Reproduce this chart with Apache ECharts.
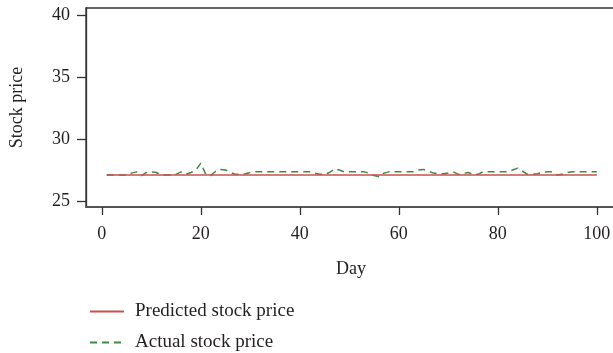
<!DOCTYPE html>
<html>
<head>
<meta charset="utf-8">
<script src="https://cdn.jsdelivr.net/npm/echarts@6/dist/echarts.min.js"></script>
<style>
  html, body { margin: 0; padding: 0; background: #fff; }
  #chart { width: 613px; height: 353px; }
</style>
</head>
<body>
<div id="chart"></div>
<script>
// Trading days 1..100
const days = [];
for (let d = 1; d <= 100; d++) days.push(d);

// Model output (flat forecast)
const predicted = [
  27.15, 27.15, 27.15, 27.15, 27.15, 27.15, 27.15, 27.15, 27.15, 27.15,
  27.15, 27.15, 27.15, 27.15, 27.15, 27.15, 27.15, 27.15, 27.15, 27.15,
  27.15, 27.15, 27.15, 27.15, 27.15, 27.15, 27.15, 27.15, 27.15, 27.15,
  27.15, 27.15, 27.15, 27.15, 27.15, 27.15, 27.15, 27.15, 27.15, 27.15,
  27.15, 27.15, 27.15, 27.15, 27.15, 27.15, 27.15, 27.15, 27.15, 27.15,
  27.15, 27.15, 27.15, 27.15, 27.15, 27.15, 27.15, 27.15, 27.15, 27.15,
  27.15, 27.15, 27.15, 27.15, 27.15, 27.15, 27.15, 27.15, 27.15, 27.15,
  27.15, 27.15, 27.15, 27.15, 27.15, 27.15, 27.15, 27.15, 27.15, 27.15,
  27.15, 27.15, 27.15, 27.15, 27.15, 27.15, 27.15, 27.15, 27.15, 27.15,
  27.15, 27.15, 27.15, 27.15, 27.15, 27.15, 27.15, 27.15, 27.15, 27.15
];

// Observed closing prices
const actual = [
  27.15, 27.15, 27.15, 27.15, 27.15, 27.3, 27.4, 27.1, 27.35, 27.4,
  27.35, 27.15, 27.15, 27.15, 27.2, 27.4, 27.2, 27.35, 27.55, 28.1,
  27.2, 27.1, 27.45, 27.6, 27.55, 27.35, 27.2, 27.2, 27.25, 27.35,
  27.4, 27.4, 27.4, 27.4, 27.4, 27.4, 27.4, 27.4, 27.4, 27.4,
  27.4, 27.4, 27.3, 27.2, 27.2, 27.35, 27.65, 27.55, 27.4, 27.4,
  27.4, 27.4, 27.4, 27.3, 27.1, 27.0, 27.3, 27.4, 27.4, 27.4,
  27.4, 27.4, 27.4, 27.55, 27.6, 27.45, 27.3, 27.25, 27.25, 27.3,
  27.4, 27.2, 27.25, 27.35, 27.2, 27.2, 27.4, 27.4, 27.4, 27.4,
  27.4, 27.4, 27.55, 27.7, 27.45, 27.2, 27.2, 27.25, 27.35, 27.4,
  27.4, 27.15, 27.2, 27.35, 27.4, 27.4, 27.4, 27.4, 27.4, 27.4
];

const xTicks = [0, 20, 40, 60, 80, 100];
const yTicks = [25, 30, 35, 40];

const seriesNames = ['Predicted stock price', 'Actual stock price'];

const FONT = '"Liberation Serif", "DejaVu Serif", serif';
const TEXT = '#231f20';
const RED = '#c9504e';
const GREEN = '#3e8a45';

// One legend block per series, stacked under the plot
function legendBlock(name, top) {
  return {
    left: 84, top: top,
    itemWidth: 34, itemHeight: 12,
    itemStyle: { opacity: 0 },
    textStyle: { fontFamily: FONT, fontSize: 19, color: TEXT, padding: [0, 0, 0, 6] },
    data: [name]
  };
}

const chart = echarts.init(document.getElementById('chart'), null, { renderer: 'canvas' });

chart.setOption({
  animation: false,
  backgroundColor: '#ffffff',
  grid: {
    left: 86, top: 8, width: 530, height: 199,
    outerBoundsMode: 'none',
    show: true, borderColor: '#333', borderWidth: 1.3, backgroundColor: 'transparent'
  },
  legend: [
    legendBlock(seriesNames[0], 297),
    legendBlock(seriesNames[1], 328)
  ],
  xAxis: {
    type: 'value',
    min: -3.2, max: 103.87,
    name: 'Day', nameLocation: 'middle', nameGap: 53,
    nameTextStyle: { fontFamily: FONT, fontSize: 18, color: TEXT },
    axisLine: { show: true, onZero: false, lineStyle: { color: '#555', width: 2 } },
    axisTick: { show: true, length: 8, lineStyle: { color: '#333', width: 1.3 }, customValues: xTicks },
    axisLabel: { fontFamily: FONT, fontSize: 18, color: TEXT, margin: 18, customValues: xTicks },
    splitLine: { show: false }
  },
  yAxis: {
    type: 'value',
    min: 24.57, max: 40.6,
    name: 'Stock price', nameLocation: 'middle', nameGap: 60, nameRotate: 90,
    nameTextStyle: { fontFamily: FONT, fontSize: 18, color: TEXT },
    axisLine: { show: true, onZero: false, lineStyle: { color: '#333', width: 1.3 } },
    axisTick: { show: true, length: 9, lineStyle: { color: '#333', width: 1.3 }, customValues: yTicks },
    axisLabel: { fontFamily: FONT, fontSize: 18, color: TEXT, margin: 16, customValues: yTicks },
    splitLine: { show: false }
  },
  series: [
    {
      name: seriesNames[0],
      type: 'line',
      symbol: 'none',
      data: days.map((d, i) => [d, predicted[i]]),
      lineStyle: { color: RED, width: 1.6 },
      itemStyle: { color: RED },
      z: 3
    },
    {
      name: seriesNames[1],
      type: 'line',
      symbol: 'none',
      data: days.map((d, i) => [d, actual[i]]),
      lineStyle: { color: GREEN, width: 1.5, type: [7, 5] },
      itemStyle: { color: GREEN },
      z: 2
    }
  ]
});
</script>
</body>
</html>
